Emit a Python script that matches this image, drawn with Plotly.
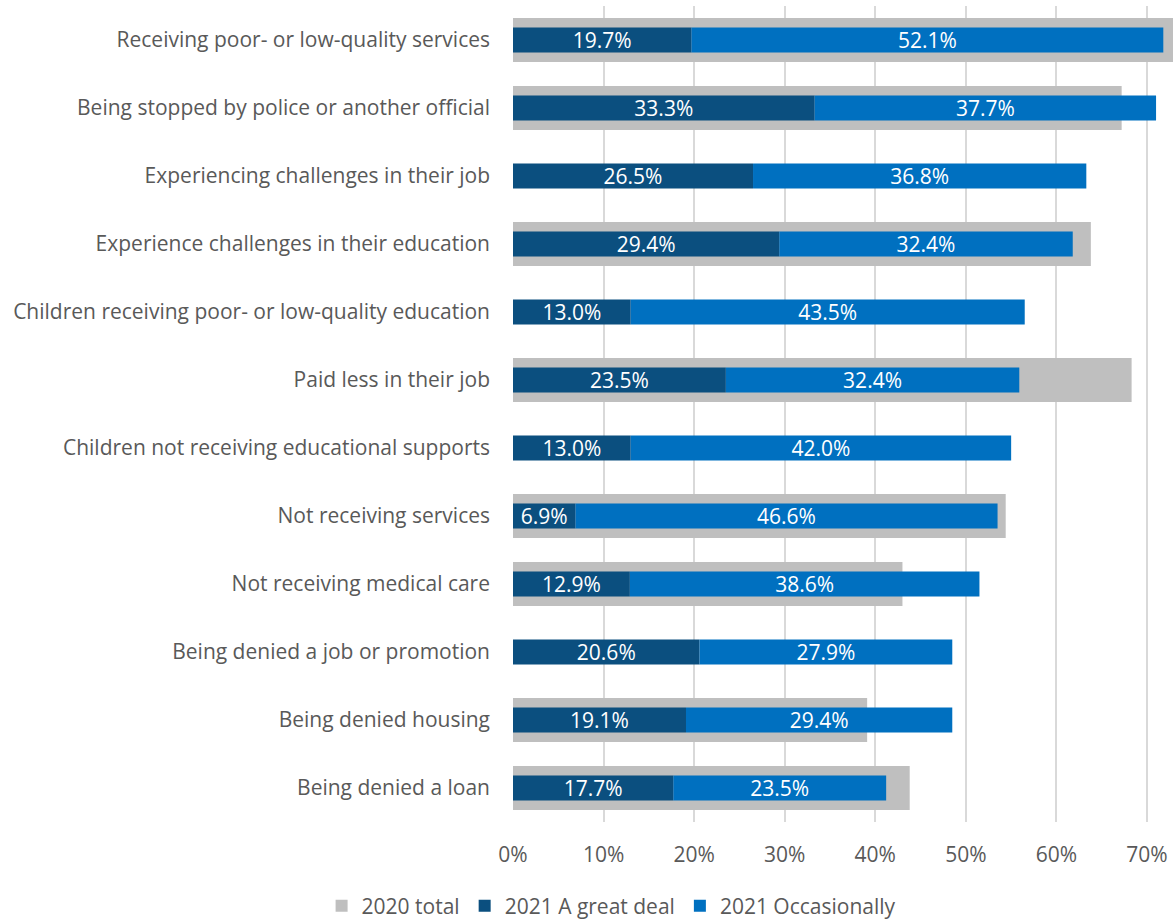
import plotly.graph_objects as go

categories = [
    "Receiving poor- or low-quality services",
    "Being stopped by police or another official",
    "Experiencing challenges in their job",
    "Experience challenges in their education",
    "Children receiving poor- or low-quality education",
    "Paid less in their job",
    "Children not receiving educational supports",
    "Not receiving services",
    "Not receiving medical care",
    "Being denied a job or promotion",
    "Being denied housing",
    "Being denied a loan",
]
total_2020 = [0.735, 0.672, None, 0.638, None, 0.683, None, 0.544, 0.430, None, 0.391, 0.438]
great_deal_2021 = [0.197, 0.333, 0.265, 0.294, 0.130, 0.235, 0.130, 0.069, 0.129, 0.206, 0.191, 0.177]
occasionally_2021 = [0.521, 0.377, 0.368, 0.324, 0.435, 0.324, 0.420, 0.466, 0.386, 0.279, 0.294, 0.235]
x_ticks = [0, 0.1, 0.2, 0.3, 0.4, 0.5, 0.6, 0.7]

FONT = "Open Sans"
FS = 21
GRAY = "#BFBFBF"
DARK = "#0B4F7F"
BLUE = "#0070C0"

fig = go.Figure()
fig.add_trace(go.Bar(
    y=categories, x=total_2020, orientation="h", name="2020 total",
    marker=dict(color=GRAY, line=dict(width=0)), width=0.65,
    hoverinfo="x+y",
))
fig.add_trace(go.Bar(
    y=categories, x=great_deal_2021, orientation="h", name="2021 A great deal",
    marker=dict(color=DARK, line=dict(width=0)), width=0.37,
    texttemplate="%{x:.1%}", textposition="inside", insidetextanchor="middle",
    textangle=0, textfont=dict(color="white", size=FS, family=FONT),
))
fig.add_trace(go.Bar(
    y=categories, x=occasionally_2021, base=great_deal_2021, orientation="h",
    name="2021 Occasionally",
    marker=dict(color=BLUE, line=dict(width=0)), width=0.37,
    texttemplate="%{x:.1%}", textposition="inside", insidetextanchor="middle",
    textangle=0, textfont=dict(color="white", size=FS, family=FONT),
))

fig.update_layout(
    width=1173, height=919,
    margin=dict(l=513, r=0, t=6, b=97, autoexpand=False),
    barmode="overlay",
    plot_bgcolor="white", paper_bgcolor="white",
    font=dict(family=FONT, size=FS, color="#595959"),
    uniformtext=dict(minsize=FS, mode="show"),
    showlegend=True,
    legend=dict(
        orientation="h", x=-0.29, xanchor="left", y=-0.103, yanchor="middle",
        font=dict(size=FS, color="#595959", family=FONT),
        itemwidth=30, traceorder="normal",
    ),
    xaxis=dict(
        range=[0, 0.7287], tickvals=x_ticks, tickformat=".0%",
        showgrid=True, gridcolor="#D9D9D9", gridwidth=2,
        zeroline=False, showline=False, ticks="",
        ticklabelstandoff=18, automargin=False,
    ),
    yaxis=dict(
        autorange="reversed", showgrid=False, showline=False, ticks="",
        ticklabelstandoff=22, zeroline=False, automargin=False,
    ),
)

fig.write_html("out.html")
